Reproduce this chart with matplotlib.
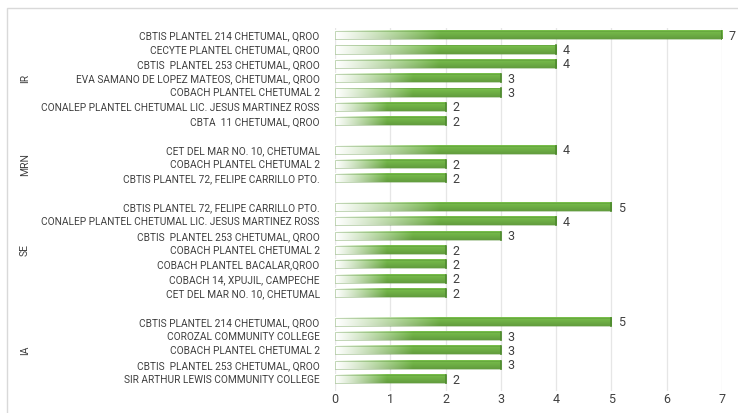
import numpy as np
import matplotlib
matplotlib.use("Agg")
import matplotlib.pyplot as plt
from matplotlib.patches import Rectangle
from matplotlib.transforms import blended_transform_factory

groups = ["IR", "MRN", "SE", "IA"]
ir_labels = ["CBTIS PLANTEL 214 CHETUMAL, QROO", "CECYTE PLANTEL CHETUMAL, QROO",
             "CBTIS  PLANTEL 253 CHETUMAL, QROO", "EVA SAMANO DE LOPEZ MATEOS, CHETUMAL, QROO",
             "COBACH PLANTEL CHETUMAL 2", "CONALEP PLANTEL CHETUMAL LIC. JESUS MARTINEZ ROSS",
             "CBTA  11 CHETUMAL, QROO"]
ir_values = [7, 4, 4, 3, 3, 2, 2]
mrn_labels = ["CET DEL MAR NO. 10, CHETUMAL", "COBACH PLANTEL CHETUMAL 2",
              "CBTIS PLANTEL 72, FELIPE CARRILLO PTO."]
mrn_values = [4, 2, 2]
se_labels = ["CBTIS PLANTEL 72, FELIPE CARRILLO PTO.",
             "CONALEP PLANTEL CHETUMAL LIC. JESUS MARTINEZ ROSS",
             "CBTIS  PLANTEL 253 CHETUMAL, QROO", "COBACH PLANTEL CHETUMAL 2",
             "COBACH PLANTEL BACALAR,QROO", "COBACH 14, XPUJIL, CAMPECHE",
             "CET DEL MAR NO. 10, CHETUMAL"]
se_values = [5, 4, 3, 2, 2, 2, 2]
ia_labels = ["CBTIS PLANTEL 214 CHETUMAL, QROO", "COROZAL COMMUNITY COLLEGE",
             "COBACH PLANTEL CHETUMAL 2", "CBTIS  PLANTEL 253 CHETUMAL, QROO",
             "SIR ARTHUR LEWIS COMMUNITY COLLEGE"]
ia_values = [5, 3, 3, 3, 2]
x_ticks = [0, 1, 2, 3, 4, 5, 6, 7]

group_labels = [ir_labels, mrn_labels, se_labels, ia_labels]
group_values = [ir_values, mrn_values, se_values, ia_values]

plt.rcParams["font.family"] = ["Roboto", "DejaVu Sans"]

txt = "#404040"
green = np.array([0x6C, 0xAB, 0x44]) / 255.0
dark = "#4E8A2E"

fig = plt.figure(figsize=(7.38, 4.13), dpi=100)
ax = fig.add_axes([335 / 738, 1 - 390.6 / 413, (722 - 335) / 738, (390.6 - 28) / 413])

# chart border
fig.patches.append(Rectangle((7 / 738, -0.1), 1.2, 1 - 8 / 413 + 0.1, transform=fig.transFigure,
                             fill=False, edgecolor="#D9D9D9", linewidth=1.0))

positions = []
labels = []
values = []
group_pos = []
pos = 0
for gl, gv in zip(group_labels, group_values):
    start = pos
    for l, v in zip(gl, gv):
        positions.append(pos)
        labels.append(l)
        values.append(v)
        pos += 1
    group_pos.append((start + pos - 1) / 2)
    pos += 1

h = 0.56
nx = 300
ny = 12
for y, v in zip(positions, values):
    fade = min(0.47 * v, 1.9)
    xs = np.linspace(0, v, nx)
    t = np.clip(xs / fade, 0, 1) ** 1.1
    img = np.ones((ny, nx, 3))
    vshade = np.linspace(1.12, 0.92, ny)  # top lighter, bottom darker
    for c in range(3):
        col = np.clip(green[c] * vshade, 0, 1)
        img[:, :, c] = (1 - t)[None, :] * 1.0 + t[None, :] * col[:, None]
    ax.imshow(img, extent=[0, v, y + h / 2, y - h / 2], aspect="auto",
              interpolation="bilinear", zorder=2)
    ax.add_patch(Rectangle((0, y - h / 2), v, h, fill=False, edgecolor=dark,
                           linewidth=0.6, alpha=0.4, zorder=3))
    ax.plot([v, v], [y - h / 2, y + h / 2], color=dark, lw=1.2, zorder=3)
    ax.text(v + 0.12, y + 0.08, str(v), va="center", ha="left", fontsize=9,
            color=txt, zorder=4)

ax.set_xlim(0, 7)
ax.set_ylim(24.8, -0.5)
ax.set_xticks(x_ticks)
ax.set_xticklabels([str(t) for t in x_ticks], fontsize=9, color=txt)
ax.set_yticks(positions)
ax.set_yticklabels(labels, fontsize=7.3, color=txt)
ax.tick_params(axis="both", length=0)
ax.tick_params(axis="y", pad=11)
ax.tick_params(axis="x", pad=2)
ax.grid(axis="x", color="#E6E6E6", linewidth=0.9, zorder=0)
ax.set_axisbelow(True)
for s in ax.spines.values():
    s.set_visible(False)

gtrans = blended_transform_factory(fig.transFigure, ax.transData)
for g, gp in zip(groups, group_pos):
    ax.text(25 / 738, gp, g, transform=gtrans, rotation=90, ha="center", va="center",
            fontsize=7.5, color=txt)

fig.savefig("out.png", dpi=100)
